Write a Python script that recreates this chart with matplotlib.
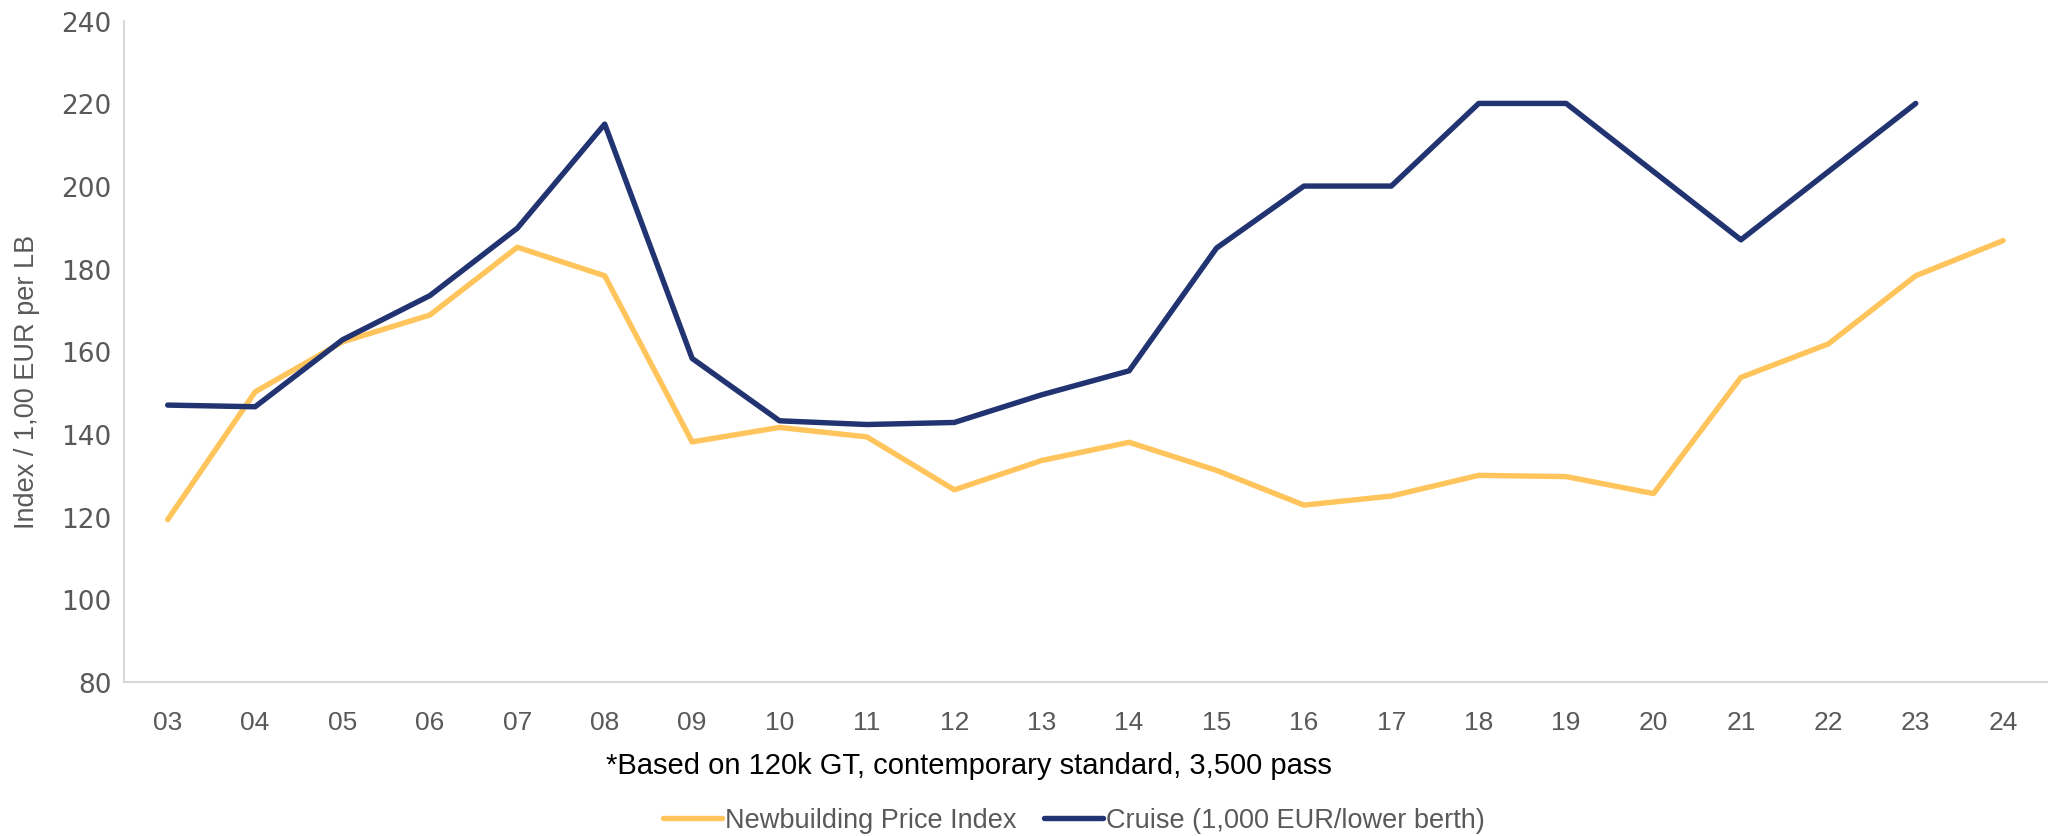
import numpy as np
import matplotlib
matplotlib.use("Agg")
import matplotlib.pyplot as plt

years = ["03", "04", "05", "06", "07", "08", "09", "10", "11", "12", "13",
         "14", "15", "16", "17", "18", "19", "20", "21", "22", "23", "24"]
newbuilding = [119.3, 150.2, 162.3, 168.8, 185.2, 178.3, 138.1, 141.6, 139.3, 126.5,
               133.6, 138.0, 131.2, 122.8, 125.0, 130.0, 129.7, 125.6, 153.7, 161.8,
               178.3, 186.8]
cruise = [147.0, 146.6, 162.8, 173.5, 189.8, 215.0, 158.3, 143.2, 142.3, 142.8,
          149.5, 155.3, 185.0, 200.0, 200.0, 220.0, 220.0, 203.5, 187.0, 203.5,
          220.0, np.nan]

yellow = "#FFC55C"
navy = "#213371"
grey = "#595959"
sans = ["Liberation Sans", "DejaVu Sans"]

fig = plt.figure(figsize=(20.53, 8.37), dpi=100)
ax = fig.add_axes([0.0604, 0.184, 0.9366, 0.790])

x = np.arange(len(years))
l1, = ax.plot(x, newbuilding, color=yellow, lw=3.9, solid_capstyle="round",
              solid_joinstyle="round", label="Newbuilding Price Index")
l2, = ax.plot(x, cruise, color=navy, lw=3.9, solid_capstyle="round",
              solid_joinstyle="round", label="Cruise (1,000 EUR/lower berth)")

ax.set_xlim(-0.5, len(years) - 0.5)
ax.set_ylim(80, 240)
ax.set_yticks(np.arange(80, 241, 20))
ax.set_xticks(x)
ax.set_xticklabels(years, family=sans, fontsize=19, color=grey)
for t in ax.get_yticklabels():
    t.set_fontsize(19)
    t.set_color(grey)
    t.set_family("DejaVu Sans")
ax.tick_params(axis="x", length=0, pad=20)
ax.tick_params(axis="y", length=0, pad=9)

for s in ["top", "right"]:
    ax.spines[s].set_visible(False)
for s in ["left", "bottom"]:
    ax.spines[s].set_color("#D9D9D9")
    ax.spines[s].set_linewidth(1.5)

ax.set_ylabel("Index / 1,00 EUR per LB", family=sans, fontsize=19.5, color=grey)
ax.yaxis.set_label_coords(-0.0435, 0.455)

fig.text(0.472, 1 - 766 / 837, "*Based on 120k GT, contemporary standard, 3,500 pass",
         ha="center", va="center", fontsize=21, family=sans, color="black")

leg = fig.legend(handles=[l1, l2], loc="center", bbox_to_anchor=(0.523, 1 - 821 / 837),
                 ncol=2, frameon=False, handlelength=2.2, handletextpad=0.1,
                 columnspacing=1.0, prop={"family": sans, "size": 19.5})
for t in leg.get_texts():
    t.set_color(grey)

fig.savefig("out.png", dpi=100)
